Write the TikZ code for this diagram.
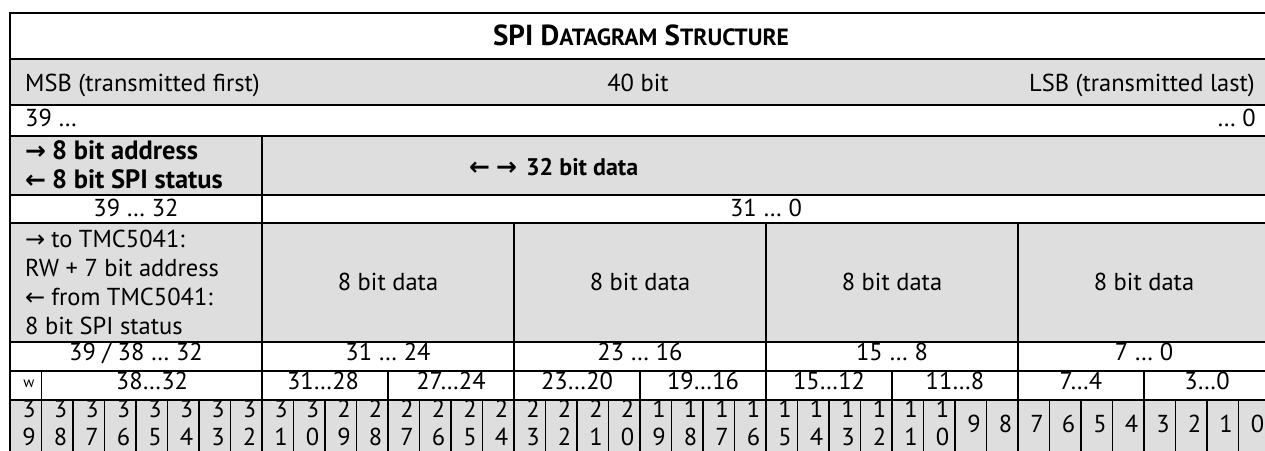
\documentclass[tikz,border=0pt]{standalone}
\usepackage{fontspec}
\setmainfont{PT Sans}
\newfontfamily\arr{DejaVu Sans}
\definecolor{cellgrey}{RGB}{222,222,222}
\newcommand\rarr{{\arr\bfseries\fontsize{25}{28}\selectfont →}}
\newcommand\larr{{\arr\bfseries\fontsize{25}{28}\selectfont ←}}
\newcommand\rarrn{{\arr\fontsize{24}{28}\selectfont →}}
\newcommand\larrn{{\arr\fontsize{24}{28}\selectfont ←}}
\begin{document}
\begin{tikzpicture}[x=1pt,y=-1pt,
  gridline/.style={line width=1.2pt,draw=black,line cap=rect},
  txt/.style={inner sep=0pt,font=\fontsize{24.5}{28}\selectfont},
  btxt/.style={inner sep=0pt,font=\fontsize{26.5}{28}\selectfont\bfseries},
  small/.style={inner sep=0pt,font=\fontsize{15}{17}\selectfont}]
\useasboundingbox (0,0) rectangle (1265,450);
\clip (0,0) rectangle (1265,450);
% grey rows
\fill[cellgrey] (10,59) rectangle (1275,105);
\fill[cellgrey] (10,136) rectangle (1275,195);
\fill[cellgrey] (10,223) rectangle (1275,342);
\fill[cellgrey] (10,400) rectangle (1275,455);
% horizontal lines
\foreach \y in {13,59,105,136,195,223,342,371,400,452}
  \draw[gridline] (10,\y) -- (1275,\y);
% vertical lines
\draw[gridline] (10,13) -- (10,452);
\draw[gridline] (1270,13) -- (1270,452);
\draw[gridline] (262,136) -- (262,452);
\foreach \i in {16,24,32}
  \draw[gridline] ({10+31.5*\i},223) -- ({10+31.5*\i},452);
\foreach \i in {1,12,20,28,36}
  \draw[gridline] ({10+31.5*\i},371) -- ({10+31.5*\i},452);
\foreach \i in {1,...,39}
  \draw[gridline] ({10+31.5*\i},400) -- ({10+31.5*\i},452);
% title
\node[inner sep=0pt,anchor=base,font=\bfseries\fontsize{29}{32}\selectfont] (title) at (641,45)
  {SPI D{\fontsize{23.5}{26}\selectfont ATAGRAM} S{\fontsize{23.5}{26}\selectfont TRUCTURE}};
% row 2
\node[txt,anchor=base west] (msb) at (25,91.7) {MSB (transmitted first)};
\node[txt,anchor=base] (forty) at (638,91.7) {40 bit};
\node[txt,anchor=base east] (lsb) at (1255,91.7) {LSB (transmitted last)};
% row 3
\node[txt,anchor=base west] (r39) at (25,126) {39 …};
\node[txt,anchor=base east] (r0) at (1256,126) {… 0};
% row 4
\node[btxt,anchor=base west] (addr1) at (25,159) {\rarr\hspace{6pt}8 bit address};
\node[btxt,anchor=base west] (addr2) at (25,188) {\larr\hspace{6pt}8 bit SPI status};
\node[inner sep=0pt,font=\fontsize{24}{28}\selectfont\bfseries,anchor=base west] (data32) at (469,175)
  {\larr\hspace{6pt}\rarr\hspace{9pt}32 bit data};
% row 5
\node[txt,anchor=base] (a3932) at (136,216.7) {39 … 32};
\node[txt,anchor=base] (a310) at (766,216.7) {31 … 0};
% row 6
\node[txt,anchor=base west] (tmc1) at (25,247) {\rarrn\hspace{6pt}to TMC5041:};
\node[txt,anchor=base west] (tmc2) at (25,276.3) {RW + 7 bit address};
\node[txt,anchor=base west] (tmc3) at (25,305.5) {\larrn\hspace{6pt}from TMC5041:};
\node[txt,anchor=base west] (tmc4) at (25,334.7) {8 bit SPI status};
\foreach \c/\n in {388/d1,640/d2,892/d3,1144/d4}
  \node[txt,anchor=base] (\n) at (\c,290) {8 bit data};
% row 7
\node[txt,anchor=base] (g1) at (136,360) {39 / 38 … 32};
\node[txt,anchor=base] (g2) at (388,360) {31 … 24};
\node[txt,anchor=base] (g3) at (640,360) {23 … 16};
\node[txt,anchor=base] (g4) at (892,360) {15 … 8};
\node[txt,anchor=base] (g5) at (1144,360) {7 … 0};
% row 8
\node[small,anchor=base] (wbit) at (29,387) {w};
\node[txt,anchor=base] (n1) at (152,389) {38…32};
\node[txt,anchor=base] (n2) at (323,389) {31…28};
\node[txt,anchor=base] (n3) at (451,389) {27…24};
\node[txt,anchor=base] (n4) at (577,389) {23…20};
\node[txt,anchor=base] (n5) at (703,389) {19…16};
\node[txt,anchor=base] (n6) at (829,389) {15…12};
\node[txt,anchor=base] (n7) at (955,389) {11…8};
\node[txt,anchor=base] (n8) at (1081,389) {7…4};
\node[txt,anchor=base] (n9) at (1207,389) {3…0};
% row 9: single bits
\foreach \i in {0,...,39}{
  \pgfmathtruncatemacro\b{39-\i}
  \pgfmathtruncatemacro\t{\b/10}
  \pgfmathtruncatemacro\u{mod(\b,10)}
  \pgfmathsetmacro\xr{10+31.5*(\i+1)-5.5}
  \ifnum\b>9
    \node[txt,anchor=base east] (bt\b) at (\xr,417) {\t};
    \node[txt,anchor=base east] (bu\b) at (\xr,445) {\u};
  \else
    \node[txt,anchor=base east] (bs\b) at (\xr,432) {\u};
  \fi
}
\end{tikzpicture}
\end{document}
